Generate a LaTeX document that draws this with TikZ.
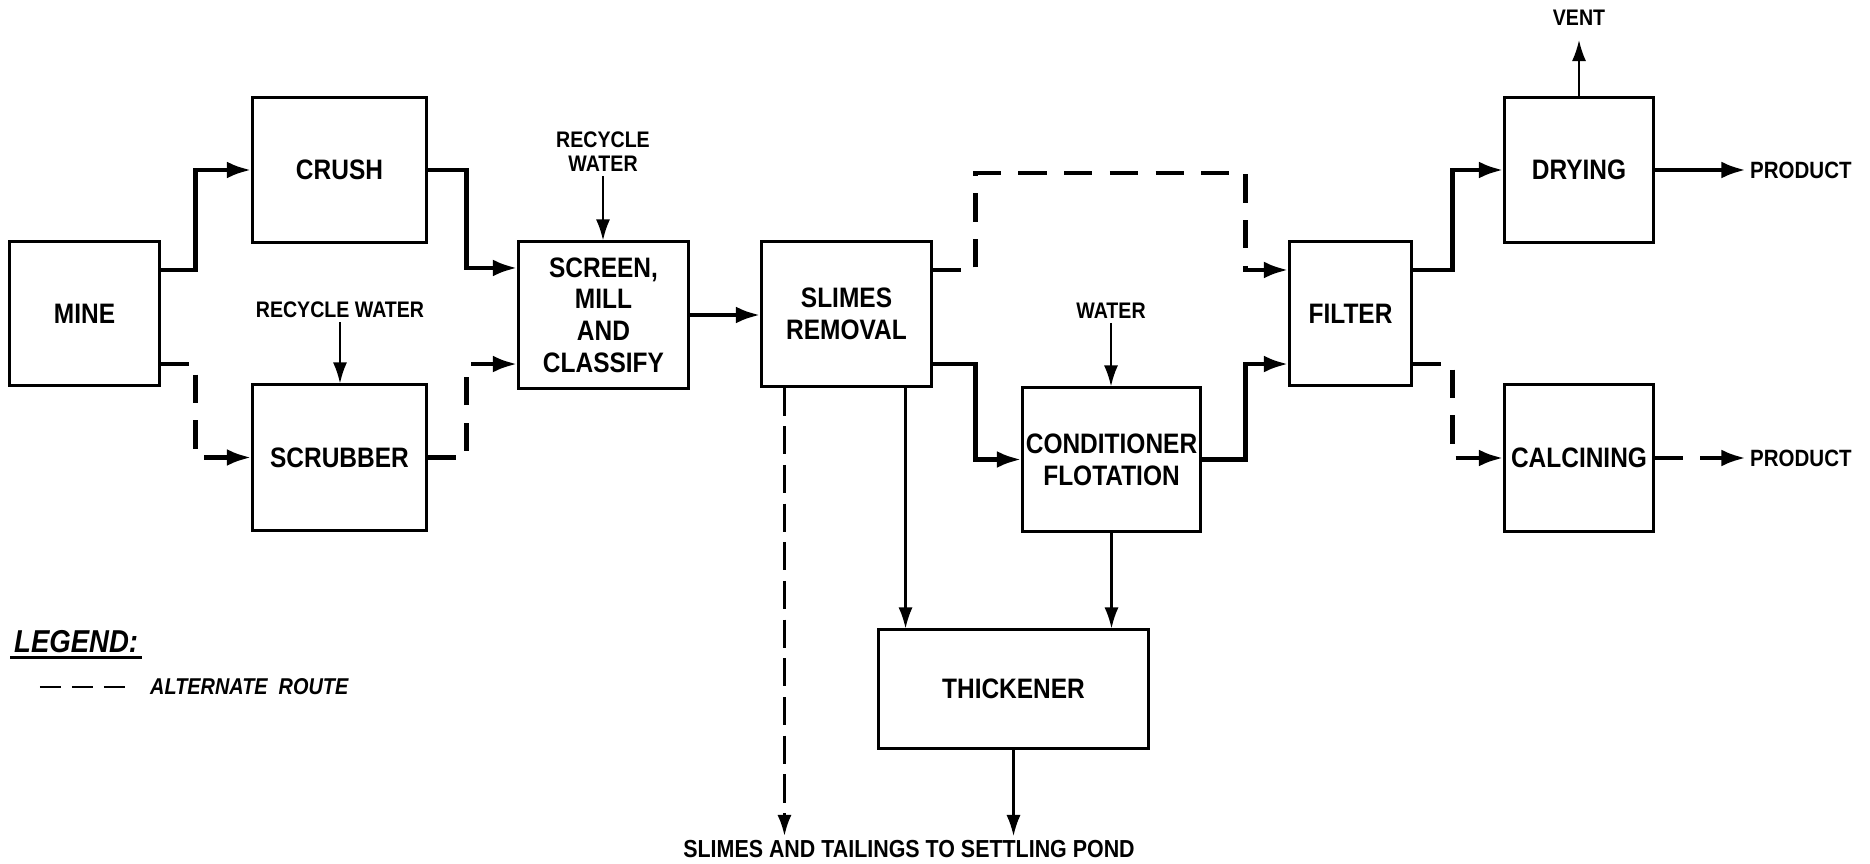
\documentclass[tikz,border=0pt]{standalone}
\usepackage{fontspec}
\setmainfont{Liberation Sans}[FakeStretch=0.87]
\usepackage{tikz}
\usetikzlibrary{arrows.meta,calc}

\begin{document}
\begin{tikzpicture}[x=0.01cm, y=-0.01cm,
		>={Latex[length=7pt,width=4.8pt]},
		box/.style={draw, line width=0.85pt, inner sep=0pt, align=center,
			font=\fontsize{8}{9}\selectfont\bfseries},
		flow/.style={->, line width=1.3pt},
		alt/.style={flow, dash pattern=on 8pt off 5pt},
		feed/.style={->, line width=0.6pt, >={Latex[length=6pt,width=4pt]}},
		tail/.style={feed, line width=0.8pt, dash pattern=on 8pt off 3pt},
		lbl/.style={inner sep=1pt, align=center, font=\fontsize{6.4}{6.9}\selectfont\bfseries}]
		% 1. 画布范围
		\useasboundingbox (0,0) rectangle (1870,864);
		
		% 2. 设备方框
		\node[box, minimum width=1.49cm, minimum height=1.43cm] (mine)   at (84.5,313.5)  {MINE};
		\node[box, minimum width=1.73cm, minimum height=1.44cm] (crush)  at (339.5,170)   {CRUSH};
		\node[box, minimum width=1.73cm, minimum height=1.45cm] (scrub)  at (339.5,457.5) {SCRUBBER};
		\node[box, minimum width=1.69cm, minimum height=1.46cm] (screen) at (603.5,315)   {SCREEN,\\MILL\\AND\\CLASSIFY};
		\node[box, minimum width=1.69cm, minimum height=1.44cm] (slimes) at (846.5,314)   {SLIMES\\REMOVAL};
		\node[box, minimum width=1.77cm, minimum height=1.43cm] (cond)   at (1111.5,459.5) {CONDITIONER\\FLOTATION};
		\node[box, minimum width=2.69cm, minimum height=1.18cm] (thick)  at (1013.5,689)  {THICKENER};
		\node[box, minimum width=1.21cm, minimum height=1.43cm] (filter) at (1350.5,313.5) {FILTER};
		\node[box, minimum width=1.48cm, minimum height=1.44cm] (dry)    at (1579,170)    {DRYING};
		\node[box, minimum width=1.48cm, minimum height=1.46cm] (calc)   at (1579,458)    {CALCINING};
		
		% 3. 进出标注
		\node[lbl] (rw1)   at (340,310)  {RECYCLE WATER};
		\node[lbl] (rw2)   at (603,152)  {RECYCLE\\WATER};
		\node[lbl] (water) at (1111,311) {WATER};
		\node[lbl] (vent)  at (1579,18)  {VENT};
		\node[lbl, anchor=west, font=\fontsize{6.7}{8}\selectfont\bfseries] (prod1) at (1746,170) {PRODUCT};
		\node[lbl, anchor=west, font=\fontsize{6.7}{8}\selectfont\bfseries] (prod2) at (1746,458) {PRODUCT};
		\node[lbl, font=\fontsize{7}{8}\selectfont\bfseries] (pond) at (909,849) {SLIMES AND TAILINGS TO SETTLING POND};
		
		% 4. 主流程
		\draw[flow] ([yshift=4.35mm]mine.east) -- ++(35,0) |- (crush.west);
		\draw[alt]  ([yshift=-5.05mm]mine.east) -- ++(35,0) |- (scrub.west);
		\draw[flow] (crush.east) -- ++(39,0) |- ([yshift=4.7mm]screen.west);
		\draw[alt]  (scrub.east) -- ++(39,0) |- ([yshift=-4.9mm]screen.west);
		\draw[flow] (screen.east) -- (screen.east -| slimes.west);
		\draw[alt]  ([yshift=4.4mm]slimes.east) -- ++(43,0) |- ++(270,-97) |- ([yshift=4.35mm]filter.west);
		\draw[flow] ([yshift=-5mm]slimes.east) -- ++(43,0) |- (cond.west);
		\draw[flow] (cond.east) -- ++(44,0) |- ([yshift=-5.05mm]filter.west);
		\draw[flow] ([yshift=4.35mm]filter.east) -- ++(40,0) |- (dry.west);
		\draw[alt]  ([yshift=-5.05mm]filter.east) -- ++(40,0) |- (calc.west);
		\draw[flow] (dry.east) -- (prod1.west);
		\draw[alt]  (calc.east) -- (prod2.west);
		
		% 5. 加水与排气
		\draw[feed] (rw1.south) -- (rw1.south |- scrub.north);
		\draw[feed] (rw2.south) -- (rw2.south |- screen.north);
		\draw[feed] (water.south) -- (water.south |- cond.north);
		\draw[feed] (dry.north) -- ([yshift=-1mm]vent.south);
		
		% 6. 浓密与尾矿
		\coordinate (s1) at ([xshift=5.9mm]slimes.south);
		\coordinate (s2) at ([xshift=-6.2mm]slimes.south);
		\draw[feed] (s1) -- (s1 |- thick.north);
		\draw[feed] (cond.south) -- (cond.south |- thick.north);
		\draw[tail] (s2) -- (s2 |- pond.north);
		\draw[feed] (thick.south) -- (thick.south |- pond.north);
		
		% 7. 图例
		\node[lbl, anchor=west, font=\fontsize{9}{10}\selectfont\bfseries\itshape] (legend) at (10,642) {LEGEND:};
		\draw[line width=1pt] (legend.south west) -- (legend.south east);
		\node[lbl, anchor=west, font=\fontsize{6.5}{8}\selectfont\bfseries\itshape] (altroute) at (146,687) {ALTERNATE\ \ ROUTE};
		\draw[line width=0.85pt, dash pattern=on 6pt off 3.1pt] ([xshift=-10.6mm]altroute.west) -- ([xshift=-2.1mm]altroute.west);
		
	\end{tikzpicture}
\end{document}
